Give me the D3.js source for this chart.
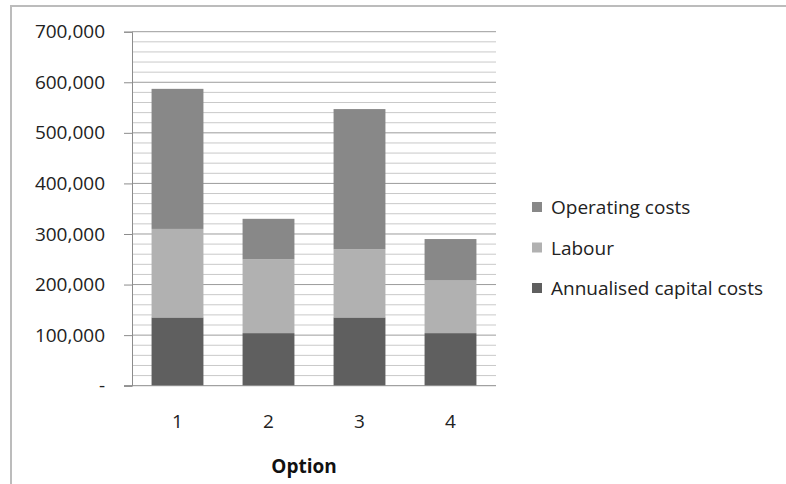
<!DOCTYPE html>
<html>
<head>
<meta charset="utf-8">
<script src="https://cdn.jsdelivr.net/npm/d3@7"></script>
<style>
  body { margin: 0; background: #fff; }
  svg { font-family: "Open Sans", "Liberation Sans", sans-serif; }
</style>
</head>
<body>
<svg width="786" height="484"></svg>
<script>
const options = ["1", "2", "3", "4"];
const capital = [135000, 104000, 135000, 104000];
const labour = [175000, 146000, 135000, 104000];
const operating = [277000, 80000, 277000, 82000];
const seriesNames = ["Annualised capital costs", "Labour", "Operating costs"];
const seriesColors = ["#5f5f5f", "#b1b1b1", "#888888"];
const yTicks = [0, 100000, 200000, 300000, 400000, 500000, 600000, 700000];

let svg = d3.select("svg");

// outer chart border (clipped by the window on right/bottom)
svg.append("path")
    .attr("d", "M11,490 V6 H790")
    .attr("fill", "none")
    .attr("stroke", "#bcbcbc")
    .attr("stroke-width", 2);

const plotLeft = 132, plotRight = 496, plotTop = 31.7, plotBottom = 385.7;

let x = d3.scaleBand().domain(options).range([plotLeft, plotRight])
    .paddingInner(0.43).paddingOuter(0.215);
let y = d3.scaleLinear().domain([0, 700000]).range([plotBottom, plotTop]);

// minor gridlines every 20,000
let minor = d3.range(20000, 700000, 20000).filter(v => v % 100000 !== 0);
svg.append("g").selectAll("line").data(minor).join("line")
    .attr("x1", plotLeft).attr("x2", plotRight)
    .attr("y1", d => y(d)).attr("y2", d => y(d))
    .attr("stroke", "#c9c9c9").attr("stroke-width", 1);

// major gridlines
svg.append("g").selectAll("line").data(yTicks.slice(1)).join("line")
    .attr("x1", plotLeft).attr("x2", plotRight)
    .attr("y1", d => y(d)).attr("y2", d => y(d))
    .attr("stroke", "#9c9c9c").attr("stroke-width", 1);

// stacked bars
let rows = options.map((o, i) => ({option: o, capital: capital[i], labour: labour[i], operating: operating[i]}));
let stack = d3.stack().keys(["capital", "labour", "operating"])(rows);
svg.append("g").selectAll("g").data(stack).join("g")
    .attr("fill", (d, i) => seriesColors[i])
    .selectAll("rect").data(d => d).join("rect")
    .attr("x", d => x(d.data.option))
    .attr("width", x.bandwidth())
    .attr("y", d => y(d[1]))
    .attr("height", d => y(d[0]) - y(d[1]));

// y axis
let yAxis = d3.axisLeft(y).tickValues(yTicks).tickSizeOuter(0).tickSize(8).tickPadding(19)
    .tickFormat(d => d === 0 ? "-" : d3.format(",")(d));
let yg = svg.append("g").attr("transform", `translate(${plotLeft},0)`).call(yAxis);
yg.select(".domain").attr("stroke", "#8c8c8c");
yg.selectAll(".tick line").attr("stroke", "#8c8c8c");
yg.selectAll("text").attr("font-size", 19).attr("fill", "#222")
    .attr("font-family", "Open Sans, Liberation Sans, sans-serif");

// x axis baseline
svg.append("line")
    .attr("x1", plotLeft - 8).attr("x2", plotRight)
    .attr("y1", plotBottom).attr("y2", plotBottom)
    .attr("stroke", "#8c8c8c");

svg.append("g").selectAll("text").data(options).join("text")
    .attr("x", d => x(d) + x.bandwidth() / 2)
    .attr("y", 428)
    .attr("text-anchor", "middle")
    .attr("font-size", 19).attr("fill", "#222")
    .text(d => d);

svg.append("text")
    .attr("x", 304).attr("y", 473)
    .attr("text-anchor", "middle")
    .attr("font-size", 19).attr("font-weight", "bold").attr("fill", "#111")
    .text("Option");

// legend (top to bottom in reverse stack order)
let legendOrder = [2, 1, 0];
let lg = svg.append("g").selectAll("g").data(legendOrder).join("g")
    .attr("transform", (d, i) => `translate(532,${207 + i * 40.5})`);
lg.append("rect").attr("x", 0).attr("y", -5).attr("width", 10).attr("height", 10)
    .attr("fill", d => seriesColors[d]);
lg.append("text").attr("x", 19).attr("y", 7)
    .attr("font-size", 19).attr("fill", "#222")
    .text(d => seriesNames[d]);
</script>
</body>
</html>
